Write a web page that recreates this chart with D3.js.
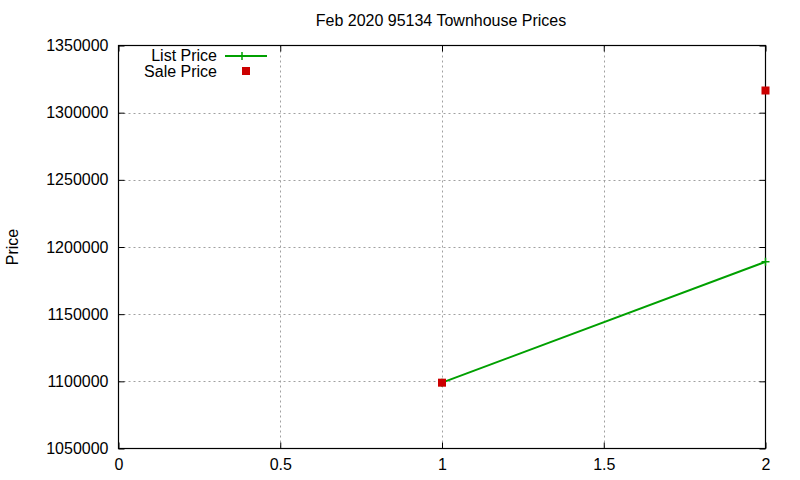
<!DOCTYPE html>
<html><head><meta charset="utf-8">
<script src="https://cdn.jsdelivr.net/npm/d3@7"></script>
<style>body{margin:0;background:#fff}text{font-family:"Liberation Sans",Arial,sans-serif;fill:#000}</style>
</head><body><svg id="c" width="800" height="480"></svg>
<script>
const listX = [1, 2];
const listPrice = [1099000, 1189000];
const saleX = [1, 2];
const salePrice = [1099000, 1316500];
const xTicks = [0, 0.5, 1, 1.5, 2];
const yTicks = [1050000, 1100000, 1150000, 1200000, 1250000, 1300000, 1350000];

const svg = d3.select("#c");
const L = 118.5, R = 765.5, T = 45.5, B = 448.5;
const x = d3.scaleLinear().domain([0, 2]).range([L, R]);
const y = d3.scaleLinear().domain([1050000, 1350000]).range([B, T]);
const FS = "16px";

// grid
const g = svg.append("g");
g.selectAll(".gx").data(xTicks.filter(d => d > 0 && d < 2)).join("line")
  .attr("x1", d => Math.round(x(d)) + 0.5).attr("x2", d => Math.round(x(d)) + 0.5)
  .attr("y1", T).attr("y2", B).attr("stroke", "#a0a0a0").attr("stroke-dasharray", "2,3");
g.selectAll(".gy").data(yTicks.filter(d => d > 1050000 && d < 1350000)).join("line")
  .attr("y1", d => Math.round(y(d)) + 0.5).attr("y2", d => Math.round(y(d)) + 0.5)
  .attr("x1", L).attr("x2", R).attr("stroke", "#a0a0a0").attr("stroke-dasharray", "2,3");

// axes
const ax = svg.append("g").attr("transform", `translate(0,${B})`)
  .call(d3.axisBottom(x).tickValues(xTicks).tickSize(-6).tickPadding(11).tickFormat(d3.format("")));
const axT = svg.append("g").attr("transform", `translate(0,${T})`)
  .call(d3.axisTop(x).tickValues(xTicks).tickSize(-6).tickFormat(""));
const ay = svg.append("g").attr("transform", `translate(${L},0)`)
  .call(d3.axisLeft(y).tickValues(yTicks).tickSize(-6).tickPadding(10).tickFormat(d3.format("d")));
const ayR = svg.append("g").attr("transform", `translate(${R},0)`)
  .call(d3.axisRight(y).tickValues(yTicks).tickSize(-6).tickFormat(""));
[ax, axT, ay, ayR].forEach(a => {
  a.select(".domain").remove();
  a.selectAll("line").attr("stroke", "#000");
  a.selectAll("text").style("font-size", FS).attr("fill", "#000");
});
ax.selectAll("text").attr("dy", "0.68em");
svg.append("rect").attr("x", L).attr("y", T).attr("width", R - L).attr("height", B - T)
  .attr("fill", "none").attr("stroke", "#000").attr("stroke-width", 1.2);

// title and y label
svg.append("text").attr("x", 441).attr("y", 26).attr("text-anchor", "middle")
  .style("font-size", FS).text("Feb 2020 95134 Townhouse Prices");
svg.append("text").attr("transform", "translate(18,247) rotate(-90)").attr("text-anchor", "middle")
  .style("font-size", FS).text("Price");

// data
const green = "#00a000", red = "#cc0000";
const listData = listX.map((d, i) => [d, listPrice[i]]);
svg.append("path").datum(listData)
  .attr("d", d3.line().x(d => x(d[0])).y(d => y(d[1])))
  .attr("fill", "none").attr("stroke", green).attr("stroke-width", 2);
svg.selectAll(".lp").data(listData).join("path")
  .attr("d", d => `M${x(d[0]) - 4},${y(d[1])}h8M${x(d[0])},${y(d[1]) - 4}v8`)
  .attr("stroke", green).attr("stroke-width", 1.5);
const saleData = saleX.map((d, i) => [d, salePrice[i]]);
svg.selectAll(".sp").data(saleData).join("rect")
  .attr("x", d => x(d[0]) - 4).attr("y", d => y(d[1]) - 4).attr("width", 8).attr("height", 8)
  .attr("fill", red);

// legend
svg.append("text").attr("x", 217).attr("y", 61).attr("text-anchor", "end").style("font-size", FS).text("List Price");
svg.append("line").attr("x1", 225).attr("x2", 267).attr("y1", 56).attr("y2", 56).attr("stroke", green).attr("stroke-width", 2);
svg.append("path").attr("d", "M242,52v8M238,56h8").attr("stroke", green).attr("stroke-width", 1.5);
svg.append("text").attr("x", 217).attr("y", 77).attr("text-anchor", "end").style("font-size", FS).text("Sale Price");
svg.append("rect").attr("x", 242).attr("y", 67).attr("width", 8).attr("height", 8).attr("fill", red);
</script></body></html>
